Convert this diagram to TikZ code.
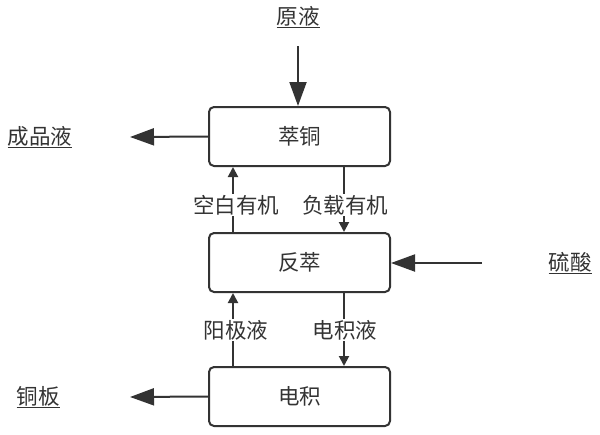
\documentclass[tikz,border=0pt]{standalone}
\usepackage{fontspec}
\setmainfont{Noto Sans CJK SC}
\usetikzlibrary{arrows.meta}
\definecolor{ink}{HTML}{333333}
\begin{document}
\begin{tikzpicture}[x=1pt,y=-1pt,
  every node/.style={text=ink,font=\fontsize{21.5}{23}\selectfont},
  proc/.style={draw=ink,line width=2pt,rounded corners=5pt,minimum width=181pt,minimum height=59pt,inner sep=0pt},
  bigarrow/.style={draw=ink,line width=2pt,-{Triangle[length=24pt,width=17pt]}},
  smallarrow/.style={draw=ink,line width=2pt,-{Triangle[length=10pt,width=10pt]}},
  plain/.style={draw=ink,line width=2pt},
  lbl/.style={inner sep=1pt}]
\useasboundingbox (0,0) rectangle (600,434);
\node[proc] (cu) at (299.5,136.5) {萃铜};
\node[proc] (fc) at (299.5,262.5) {反萃};
\node[proc] (dj) at (299.5,396.5) {电积};
\node[lbl] (yy) at (298,17) {\underline{原液}};
\node[lbl] (cp) at (40,137) {\underline{成品液}};
\node[lbl] (ls) at (570,263) {\underline{硫酸}};
\node[lbl] (tb) at (38,397) {\underline{铜板}};
\coordinate (yys) at (298,46);
\coordinate (cpe) at (130,137);
\coordinate (lss) at (482,263);
\coordinate (tbe) at (130,397);
\draw[bigarrow] (yys) -- (cu.north -| yys);
\draw[bigarrow] (cu.west) -- (cpe);
\draw[bigarrow] (lss) -- (fc.east |- lss);
\draw[bigarrow] (dj.west) -- (tbe);
% middle labels
\node[lbl] (kb) at (236,205) {空白有机};
\node[lbl] (fz) at (345,205) {负载有机};
\node[lbl] (yj) at (236,330) {阳极液};
\node[lbl] (dy) at (345,330) {电积液};
\draw[plain] (fc.north -| 233,0) -- (kb.south -| 233,0);
\draw[smallarrow] (kb.north -| 233,0) -- (cu.south -| 233,0);
\draw[plain] (cu.south -| 344,0) -- (fz.north -| 344,0);
\draw[smallarrow] (fz.south -| 344,0) -- (fc.north -| 344,0);
\draw[plain] (dj.north -| 233,0) -- (yj.south -| 233,0);
\draw[smallarrow] (yj.north -| 233,0) -- (fc.south -| 233,0);
\draw[plain] (fc.south -| 344,0) -- (dy.north -| 344,0);
\draw[smallarrow] (dy.south -| 344,0) -- (dj.north -| 344,0);
\end{tikzpicture}
\end{document}
